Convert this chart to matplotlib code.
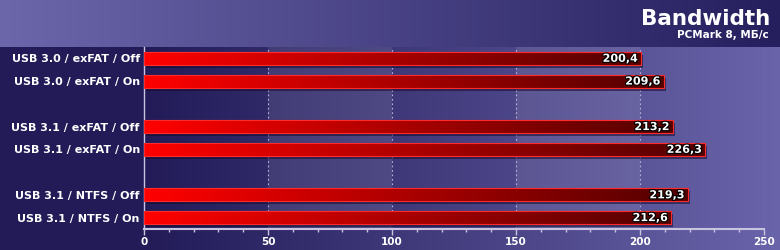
import numpy as np
import matplotlib
matplotlib.use('Agg')
import matplotlib.pyplot as plt
import matplotlib.patheffects as pe
from matplotlib.patches import Rectangle
from matplotlib.colors import LinearSegmentedColormap

# data
labels = ['USB 3.0 / exFAT / Off', 'USB 3.0 / exFAT / On',
          'USB 3.1 / exFAT / Off', 'USB 3.1 / exFAT / On',
          'USB 3.1 / NTFS / Off', 'USB 3.1 / NTFS / On']
values = [200.4, 209.6, 213.2, 226.3, 219.3, 212.6]
x_ticks = [0, 50, 100, 150, 200, 250]
title = 'Bandwidth'
subtitle = 'PCMark 8, МБ/с'

W, H = 780, 250
fig = plt.figure(figsize=(W / 100, H / 100), dpi=100)

# background: light-to-dark header strip, dark-to-light body
bg = fig.add_axes([0, 0, 1, 1], zorder=-10)
bg.axis('off')
t = np.linspace(0, 1, W)[None, :, None]
dark = np.array([0x22, 0x1b, 0x58]) / 255
light = np.array([0x6a, 0x65, 0xab]) / 255
top_l = np.array([0x6c, 0x67, 0xab]) / 255
top_r = np.array([0x25, 0x1f, 0x5e]) / 255
tb = np.clip((np.arange(W) - 144) / (W - 144), 0, 1)[None, :, None]
img = np.empty((H, W, 3))
img[:] = dark * (1 - tb) + light * tb
img[:47] = top_l * (1 - t) + top_r * t
bg.imshow(img, extent=(0, 1, 0, 1), aspect='auto')
bg.set_xlim(0, 1)
bg.set_ylim(0, 1)

ax = fig.add_axes([144 / W, 21 / H, 620 / W, 182 / H])
ax.patch.set_alpha(0)

# rows in groups of two with an empty slot between groups
pos = [i + i // 2 for i in range(len(values))]
y_lo, y_hi = -0.5, max(pos) + 0.5
x_max = x_ticks[-1]

for s in x_ticks[1:-1:2]:
    ax.axvspan(s, s + 50, color='white', alpha=0.09, lw=0, zorder=0.5)
for x in x_ticks[1:]:
    ax.axvline(x, color='#b8b4dc', ls=(0, (1.5, 2.5)), lw=0.8, zorder=1)

bar_grad = np.linspace(0, 1, 256)[None, :]
bar_cmap = LinearSegmentedColormap.from_list('bar', ['#ff0000', '#520000'])
bar_h = 0.57
for y, v in zip(pos, values):
    ax.add_patch(Rectangle((0.8, y - bar_h / 2 + 0.13), v, bar_h,
                           color='#110b2e', alpha=0.55, lw=0, zorder=2))
    ax.imshow(bar_grad, cmap=bar_cmap,
              extent=(0, v, y + bar_h / 2, y - bar_h / 2),
              aspect='auto', zorder=3)
    ax.add_patch(Rectangle((0, y - bar_h / 2), v, bar_h, fill=False,
                           ec='#ff2a2a', lw=0.8, zorder=4))
    ax.text(v - 1.3, y + 0.02, f'{v:.1f}'.replace('.', ','), ha='right',
            va='center', color='white', fontweight='bold', fontsize=8,
            zorder=5,
            path_effects=[pe.withStroke(linewidth=1.6, foreground='black')])

ax.set_xlim(0, x_max)
ax.set_ylim(y_hi, y_lo)
ax.set_xticks(x_ticks)
ax.set_xticks(range(0, x_max + 1, 10), minor=True)
ax.set_yticks(pos, labels)
ax.tick_params(axis='x', which='major', colors='#c8c4e0', length=4, width=1,
               labelcolor='white', labelsize=7.5, pad=2)
ax.tick_params(axis='x', which='minor', colors='#c8c4e0', length=2, width=1)
ax.tick_params(axis='y', length=0, pad=3, labelcolor='white', labelsize=8)
for lab in ax.get_xticklabels() + ax.get_yticklabels():
    lab.set_fontweight('bold')
for side in ('top', 'right'):
    ax.spines[side].set_visible(False)
ax.spines['left'].set_color('#c8c4e0')
ax.spines['left'].set_linewidth(1)
ax.spines['bottom'].set_color('#c8c4e0')
ax.spines['bottom'].set_linewidth(1.5)

fig.text(770 / W, 1 - 25 / H, title, ha='right', va='baseline',
         color='white', fontsize=15.5, fontweight='bold')
fig.text(769 / W, 1 - 38 / H, subtitle, ha='right', va='baseline',
         color='white', fontsize=7.5, fontweight='bold')

fig.savefig('out.png', dpi=100)
